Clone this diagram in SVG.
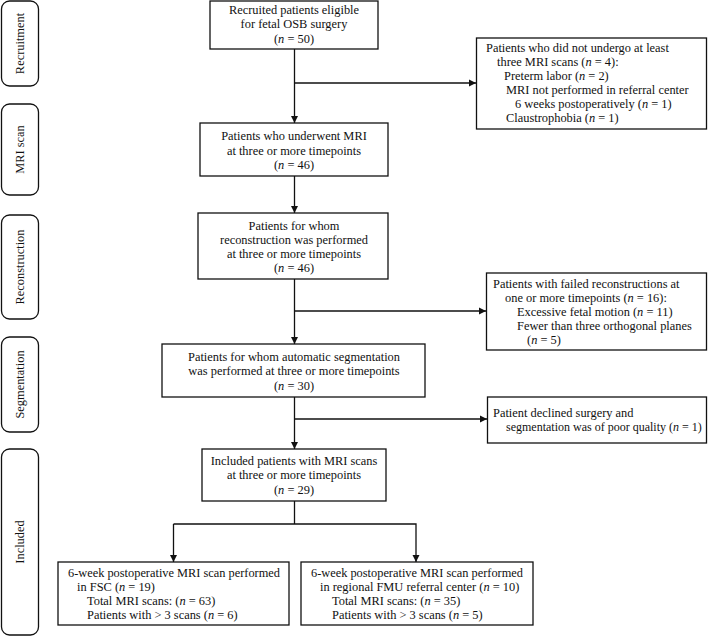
<svg xmlns="http://www.w3.org/2000/svg" width="709" height="638" viewBox="0 0 709 638">
<style>
text{font-family:"Liberation Serif","Times New Roman",serif;font-size:12.4px;fill:#111}
.c{text-anchor:middle}
.i{font-style:italic}
.box{fill:#fff;stroke:#111;stroke-width:1.3}
.side{fill:#fff;stroke:#111;stroke-width:1.3}
.ln{fill:none;stroke:#111;stroke-width:1.3}
</style>
<defs>
<marker id="ah" markerWidth="8" markerHeight="8" refX="7" refY="4" orient="auto" markerUnits="userSpaceOnUse">
<path d="M0,0.5 L7,4 L0,7.5 Z" fill="#111"/>
</marker>
</defs>
<rect width="709" height="638" fill="#fff"/>

<g id="side-recruitment"><rect class="side" x="1.5" y="1" width="37" height="85" rx="8"/><text class="c" transform="translate(24,43.5) rotate(-90)">Recruitment</text></g>
<g id="side-mri"><rect class="side" x="1.5" y="104" width="37" height="91" rx="8"/><text class="c" transform="translate(24,149.5) rotate(-90)">MRI scan</text></g>
<g id="side-reconstruction"><rect class="side" x="1.5" y="215" width="37" height="104" rx="8"/><text class="c" transform="translate(24,267) rotate(-90)">Reconstruction</text></g>
<g id="side-segmentation"><rect class="side" x="1.5" y="337" width="37" height="95" rx="8"/><text class="c" transform="translate(24,384.5) rotate(-90)">Segmentation</text></g>
<g id="side-included"><rect class="side" x="1.5" y="449" width="37" height="186" rx="8"/><text class="c" transform="translate(24,542) rotate(-90)">Included</text></g>

<g id="connectors">
<line class="ln" x1="294.5" y1="49" x2="294.5" y2="123" marker-end="url(#ah)"/>
<line class="ln" x1="294.5" y1="83" x2="476" y2="83" marker-end="url(#ah)"/>
<line class="ln" x1="294.5" y1="176" x2="294.5" y2="213" marker-end="url(#ah)"/>
<line class="ln" x1="294.5" y1="279" x2="294.5" y2="344" marker-end="url(#ah)"/>
<line class="ln" x1="294.5" y1="311" x2="486" y2="311" marker-end="url(#ah)"/>
<line class="ln" x1="294.5" y1="397" x2="294.5" y2="449" marker-end="url(#ah)"/>
<line class="ln" x1="294.5" y1="419" x2="487" y2="419" marker-end="url(#ah)"/>
<polyline class="ln" points="294.5,501 294.5,524"/>
<polyline class="ln" points="173.5,524 416,524 416,562" marker-end="url(#ah)"/>
<line class="ln" x1="173.5" y1="524" x2="173.5" y2="562" marker-end="url(#ah)"/>
</g>

<g id="n1"><rect class="box" x="210" y="1" width="168" height="48"/>
<text class="c" x="294" y="14">Recruited patients eligible</text>
<text class="c" x="294" y="28">for fetal OSB surgery</text>
<text class="c" x="294" y="43">(<tspan class="i">n</tspan> = 50)</text></g>

<g id="n2"><rect class="box" x="476.5" y="38" width="230" height="91"/>
<text x="486" y="52">Patients who did not undergo at least</text>
<text x="497" y="66">three MRI scans (<tspan class="i">n</tspan> = 4):</text>
<text x="504" y="80">Preterm labor (<tspan class="i">n</tspan> = 2)</text>
<text x="506" y="94">MRI not performed in referral center</text>
<text x="515" y="108">6 weeks postoperatively (<tspan class="i">n</tspan> = 1)</text>
<text x="506" y="122">Claustrophobia (<tspan class="i">n</tspan> = 1)</text></g>

<g id="n3"><rect class="box" x="200" y="123" width="188" height="53"/>
<text class="c" x="294" y="140">Patients who underwent MRI</text>
<text class="c" x="294" y="155">at three or more timepoints</text>
<text class="c" x="294" y="169">(<tspan class="i">n</tspan> = 46)</text></g>

<g id="n4"><rect class="box" x="198" y="213" width="190" height="66"/>
<text class="c" x="294" y="230">Patients for whom</text>
<text class="c" x="294" y="244">reconstruction was performed</text>
<text class="c" x="294" y="258">at three or more timepoints</text>
<text class="c" x="294" y="272">(<tspan class="i">n</tspan> = 46)</text></g>

<g id="n5"><rect class="box" x="486.5" y="273" width="220" height="77"/>
<text x="493" y="288">Patients with failed reconstructions at</text>
<text x="505" y="302">one or more timepoints (<tspan class="i">n</tspan> = 16):</text>
<text x="517" y="316">Excessive fetal motion (<tspan class="i">n</tspan> = 11)</text>
<text x="517" y="330">Fewer than three orthogonal planes</text>
<text x="527" y="344">(<tspan class="i">n</tspan> = 5)</text></g>

<g id="n6"><rect class="box" x="162" y="344" width="263" height="53"/>
<text class="c" x="294" y="361">Patients for whom automatic segmentation</text>
<text class="c" x="294" y="375">was performed at three or more timepoints</text>
<text class="c" x="294" y="390">(<tspan class="i">n</tspan> = 30)</text></g>

<g id="n7"><rect class="box" x="487.5" y="397" width="219" height="46"/>
<text x="493" y="417">Patient declined surgery and</text>
<text x="506" y="431" style="font-size:12px">segmentation was of poor quality (<tspan class="i">n</tspan> = 1)</text></g>

<g id="n8"><rect class="box" x="202" y="449" width="184" height="52"/>
<text class="c" x="294" y="465">Included patients with MRI scans</text>
<text class="c" x="294" y="479">at three or more timepoints</text>
<text class="c" x="294" y="494">(<tspan class="i">n</tspan> = 29)</text></g>

<g id="n9"><rect class="box" x="58" y="562" width="231" height="63"/>
<text x="68" y="577" textLength="212" lengthAdjust="spacingAndGlyphs">6-week postoperative MRI scan performed</text>
<text x="77" y="591">in FSC (<tspan class="i">n</tspan> = 19)</text>
<text x="87" y="605">Total MRI scans: (<tspan class="i">n</tspan> = 63)</text>
<text x="87" y="619">Patients with &gt; 3 scans (<tspan class="i">n</tspan> = 6)</text></g>

<g id="n10"><rect class="box" x="301" y="562" width="232" height="63"/>
<text x="311" y="577" textLength="212" lengthAdjust="spacingAndGlyphs">6-week postoperative MRI scan performed</text>
<text x="320" y="591">in regional FMU referral center (<tspan class="i">n</tspan> = 10)</text>
<text x="332" y="605">Total MRI scans: (<tspan class="i">n</tspan> = 35)</text>
<text x="332" y="619">Patients with &gt; 3 scans (<tspan class="i">n</tspan> = 5)</text></g>
</svg>
